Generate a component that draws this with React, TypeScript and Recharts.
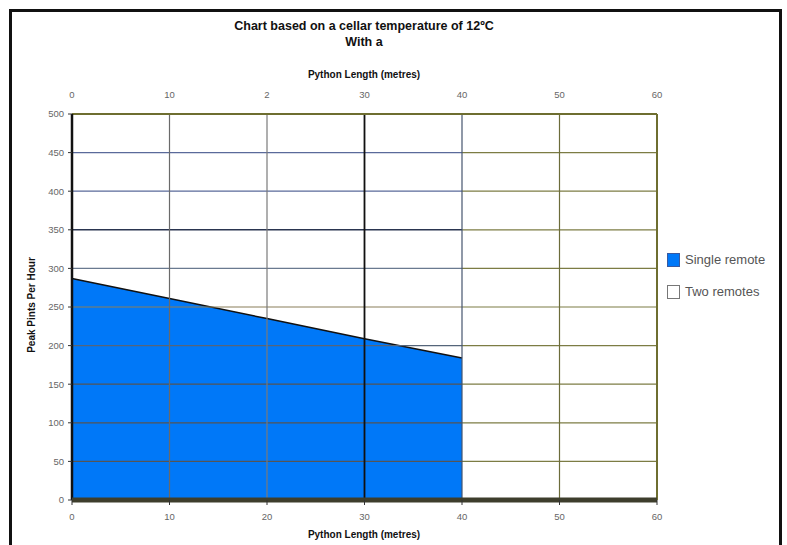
import React from 'react';
import { ComposedChart, Area, XAxis, YAxis, ReferenceLine } from 'recharts';

const lengths = [0, 10, 20, 30, 40];
const singleRemote = [287, 261, 235, 209, 184];
const xTicks = [0, 10, 20, 30, 40, 50, 60];
const topTickLabels = ['0', '10', '2', '30', '40', '50', '60'];
const yTicks = [0, 50, 100, 150, 200, 250, 300, 350, 400, 450, 500];
const gridYs = [50, 100, 150, 200, 250, 300, 350, 400, 450];
const gridXs = [10, 20, 30, 40, 50];
const seriesNames = ['Single remote', 'Two remotes'];
const title1 = 'Chart based on a cellar temperature of 12\u00BAC';
const title2 = 'With a';
const axisTitle = 'Python Length (metres)';
const yTitle = 'Peak Pints Per Hour';

const data = lengths.map((l, i) => ({ length: l, single: singleRemote[i] }));

const OLIVE = '#7c7c44';
const leftGridColor: Record<number, string> = {
  50: '#555555', 100: '#555555', 150: '#555555', 200: '#55657a',
  250: '#8a7f5a', 300: '#6a7a90', 350: '#2a3550', 400: '#5a6a9a', 450: '#5a6a9a',
};
const vGridColor: Record<number, string> = {
  10: '#6a6a6a', 20: '#7a7a7a', 30: '#111111', 40: '#45546e', 50: '#6c6c3a',
};

const FONT = '"Liberation Sans", Arial, sans-serif';

export default function App() {
  return (
    <div style={{ position: 'absolute', left: 0, top: 0, width: 787, height: 545, background: '#fff', overflow: 'hidden', fontFamily: FONT }}>
      <div style={{ position: 'absolute', left: 9, top: 9, width: 773, height: 560, border: '3px solid #111', boxSizing: 'border-box' }} />
      <div style={{ position: 'absolute', left: 164, width: 400, top: 18, textAlign: 'center', fontWeight: 'bold', fontSize: 12.5, lineHeight: '16px', color: '#111' }}>
        {title1}<br />{title2}
      </div>
      <div style={{ position: 'absolute', left: 214, width: 300, top: 69, textAlign: 'center', fontWeight: 'bold', fontSize: 10, lineHeight: '12px', color: '#111' }}>
        {axisTitle}
      </div>
      <div style={{ position: 'absolute', left: 214, width: 300, top: 529, textAlign: 'center', fontWeight: 'bold', fontSize: 10, lineHeight: '12px', color: '#111' }}>
        {axisTitle}
      </div>
      <div style={{ position: 'absolute', left: 32 - 80, width: 160, top: 299, textAlign: 'center', fontWeight: 'bold', fontSize: 10, lineHeight: '12px', color: '#111', transform: 'rotate(-90deg)' }}>
        {yTitle}
      </div>
      <ComposedChart
        width={787}
        height={545}
        data={data}
        margin={{ top: 94, right: 120, bottom: 20, left: 32 }}
        style={{ position: 'absolute', left: 0, top: 0 }}
      >
        <XAxis
          xAxisId="bottom"
          dataKey="length"
          type="number"
          domain={[0, 60]}
          ticks={xTicks}
          orientation="bottom"
          height={25}
          axisLine={false}
          tickLine={{ stroke: '#333' }}
          tickSize={5}
          tickMargin={8}
          tick={{ fontSize: 9.5, fill: '#666', fontFamily: FONT }}
        />
        <XAxis
          xAxisId="top"
          dataKey="length"
          type="number"
          domain={[0, 60]}
          ticks={xTicks}
          orientation="top"
          height={20}
          axisLine={false}
          tickLine={false}
          tickSize={0}
          tickMargin={16}
          tickFormatter={(v: number) => topTickLabels[xTicks.indexOf(v)]}
          tick={{ fontSize: 9.5, fill: '#666', fontFamily: FONT }}
        />
        <YAxis
          yAxisId="left"
          type="number"
          domain={[0, 500]}
          ticks={yTicks}
          width={40}
          axisLine={false}
          tickLine={{ stroke: '#333' }}
          tickSize={4}
          tickMargin={4}
          tick={{ fontSize: 9.5, fill: '#666', fontFamily: FONT }}
        />
        <YAxis
          yAxisId="right"
          orientation="right"
          type="number"
          domain={[0, 500]}
          ticks={yTicks}
          width={10}
          axisLine={false}
          tickLine={{ stroke: '#aaa' }}
          tickSize={6}
          tick={false}
        />
        <Area
          xAxisId="bottom"
          yAxisId="left"
          dataKey="single"
          type="linear"
          fill="#0078f8"
          fillOpacity={1}
          stroke="#111"
          strokeWidth={1.5}
          isAnimationActive={false}
          name={seriesNames[0]}
        />
        {gridYs.map((y) => (
          <ReferenceLine
            key={'hl' + y}
            xAxisId="bottom"
            yAxisId="left"
            segment={[{ x: 0, y }, { x: 40, y }]}
            stroke={leftGridColor[y]}
            strokeWidth={y === 350 ? 1.5 : 1.2}
            ifOverflow="visible"
          />
        ))}
        {gridYs.map((y) => (
          <ReferenceLine
            key={'hr' + y}
            xAxisId="bottom"
            yAxisId="left"
            segment={[{ x: 40, y }, { x: 60, y }]}
            stroke={OLIVE}
            strokeWidth={1.2}
            ifOverflow="visible"
          />
        ))}
        {gridXs.map((x) => (
          <ReferenceLine
            key={'v' + x}
            xAxisId="bottom"
            yAxisId="left"
            x={x}
            stroke={vGridColor[x]}
            strokeWidth={x === 30 ? 1.8 : 1.2}
            ifOverflow="visible"
          />
        ))}
        <ReferenceLine xAxisId="bottom" yAxisId="left" y={500} stroke="#6e6e30" strokeWidth={2} ifOverflow="visible" />
        <ReferenceLine xAxisId="bottom" yAxisId="left" x={60} stroke="#6e6e30" strokeWidth={2} ifOverflow="visible" />
        <ReferenceLine xAxisId="bottom" yAxisId="left" x={0} stroke="#111" strokeWidth={2.5} ifOverflow="visible" />
        <ReferenceLine xAxisId="bottom" yAxisId="left" y={0} stroke="#3e3e2c" strokeWidth={5} ifOverflow="visible" />
      </ComposedChart>
      <div style={{ position: 'absolute', left: 667, top: 252, fontSize: 13, color: '#555', lineHeight: '16px' }}>
        {seriesNames.map((name, i) => (
          <div key={name} style={{ display: 'flex', alignItems: 'center', height: 16, marginBottom: 16 }}>
            <span style={{ display: 'inline-block', width: 13, height: 14, boxSizing: 'border-box', background: i === 0 ? '#0078f8' : '#fff', border: i === 0 ? '1px solid #3a5aa0' : '1px solid #777', marginRight: 5 }} />
            <span>{name}</span>
          </div>
        ))}
      </div>
    </div>
  );
}
